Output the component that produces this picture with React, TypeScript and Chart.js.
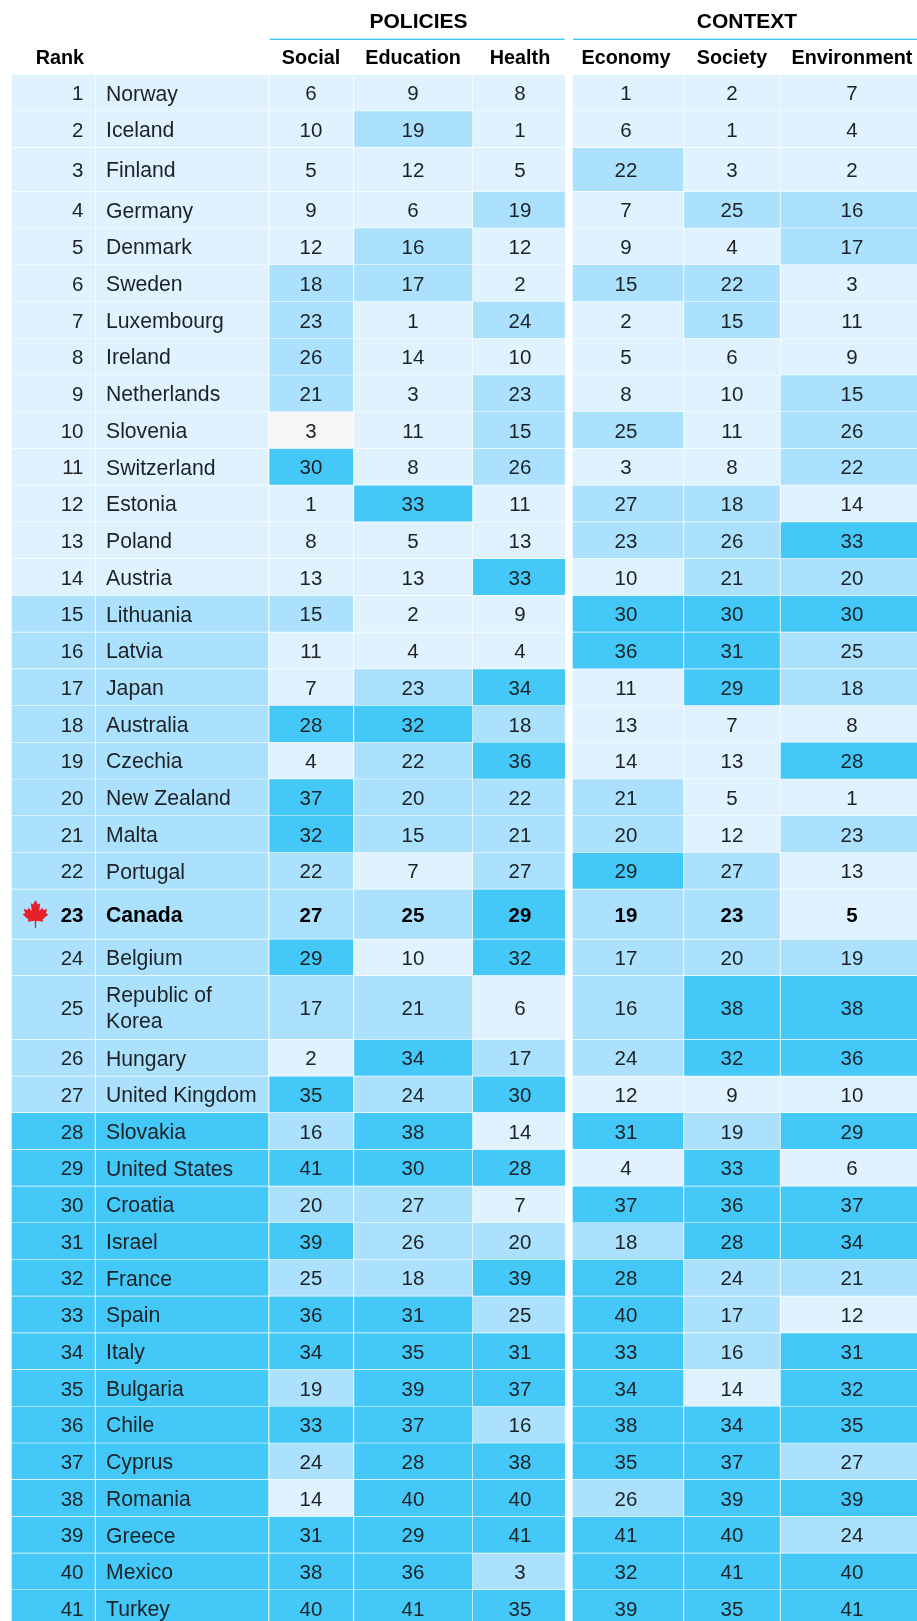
import React, { useEffect, useRef } from "react";
import { Chart, registerables } from "chart.js";

Chart.register(...registerables);

const ranks = Array.from({ length: 41 }, (_, i) => i + 1);
const countries = ["Norway","Iceland","Finland","Germany","Denmark","Sweden","Luxembourg","Ireland","Netherlands","Slovenia","Switzerland","Estonia","Poland","Austria","Lithuania","Latvia","Japan","Australia","Czechia","New Zealand","Malta","Portugal","Canada","Belgium","Republic of\nKorea","Hungary","United Kingdom","Slovakia","United States","Croatia","Israel","France","Spain","Italy","Bulgaria","Chile","Cyprus","Romania","Greece","Mexico","Turkey"];
const social = [6,10,5,9,12,18,23,26,21,3,30,1,8,13,15,11,7,28,4,37,32,22,27,29,17,2,35,16,41,20,39,25,36,34,19,33,24,14,31,38,40];
const education = [9,19,12,6,16,17,1,14,3,11,8,33,5,13,2,4,23,32,22,20,15,7,25,10,21,34,24,38,30,27,26,18,31,35,39,37,28,40,29,36,41];
const health = [8,1,5,19,12,2,24,10,23,15,26,11,13,33,9,4,34,18,36,22,21,27,29,32,6,17,30,14,28,7,20,39,25,31,37,16,38,40,41,3,35];
const economy = [1,6,22,7,9,15,2,5,8,25,3,27,23,10,30,36,11,13,14,21,20,29,19,17,16,24,12,31,4,37,18,28,40,33,34,38,35,26,41,32,39];
const society = [2,1,3,25,4,22,15,6,10,11,8,18,26,21,30,31,29,7,13,5,12,27,23,20,38,32,9,19,33,36,28,24,17,16,14,34,37,39,40,41,35];
const environment = [7,4,2,16,17,3,11,9,15,26,22,14,33,20,30,25,18,8,28,1,23,13,5,19,38,36,10,29,6,37,34,21,12,31,32,35,27,39,24,40,41];
const columnNames = ["Social","Education","Health","Economy","Society","Environment"];
const groupNames = ["POLICIES","CONTEXT"];

// Layout lists
const rowHeights = [36.7,36.6,43.7,36.7,36.73,36.73,36.73,36.73,36.73,36.73,36.73,36.73,36.73,36.73,36.73,36.73,36.73,36.73,36.73,36.73,36.73,36.73,49.9,36.6,63.7,36.7,36.6,36.7,36.7,36.7,36.7,36.7,36.7,36.7,36.7,36.7,36.7,36.7,36.7,36.7,36.7];
const colEdges: [number, number][] = [[12,94.5],[96,268],[269.7,352.8],[354.5,472],[473.3,564.6],[573,683],[684.5,779.5],[781,917]];
const textCenters = [311,413,520,626,732,852];
const FONT = '"Liberation Sans", Arial, sans-serif';
const INK = "#1c2226";
const LIGHT = "#dff2fd";
const MID = "#abe1fd";
const DARK = "#44c8f8";
const tierColor = (v: number) => (v <= 14 ? LIGHT : v <= 27 ? MID : DARK);
const cellColorOverrides: Record<string, string> = { "9-0": "#f6f6f4", "39-2": MID };

const tops: number[] = [];
rowHeights.reduce((acc, h, i) => ((tops[i] = acc), acc + h), 75);
const rowRange = (i: number): [number, number] => [tops[i], tops[i] + rowHeights[i] - 1.3];
const valueCols = [social, education, health, economy, society, environment];

const leafHalf: [number, number][] = [[0,0],[9,16],[17,12],[13,40],[24,28],[28,36],[42,32],[37,47],[46,52],[25,70],[28,78],[3,74],[2,100]];

const tablePlugin = {
  id: "tableText",
  afterDatasetsDraw(chart: any) {
    const { ctx, scales } = chart;
    const xs = scales.x, ys = scales.y;
    const px = (v: number) => xs.getPixelForValue(v);
    const py = (v: number) => ys.getPixelForValue(v);
    const canadaIdx = countries.indexOf("Canada");
    ctx.save();
    ctx.fillStyle = "#000";
    ctx.textBaseline = "middle";
    // group headers + rules
    ctx.font = `bold 21px ${FONT}`;
    ctx.textAlign = "center";
    ctx.fillText(groupNames[0], px(418.5), py(21.8));
    ctx.fillText(groupNames[1], px(747), py(21.8));
    ctx.fillStyle = DARK;
    ctx.fillRect(px(269.7), py(38.6), px(564.6) - px(269.7), 1.4);
    ctx.fillRect(px(573), py(38.6), px(917) - px(573), 1.4);
    ctx.fillStyle = "#000";
    ctx.font = `bold 19.8px ${FONT}`;
    ctx.textAlign = "right";
    ctx.fillText("Rank", px(84), py(58.5));
    ctx.textAlign = "center";
    columnNames.forEach((n, i) => ctx.fillText(n, px(textCenters[i]), py(58.5)));

    ranks.forEach((r, i) => {
      const cy = py((rowRange(i)[0] + rowRange(i)[1]) / 2) + 2;
      const bold = i === canadaIdx;
      ctx.fillStyle = bold ? "#000" : INK;
      const weight = bold ? "bold " : "";
      ctx.font = `${weight}20.5px ${FONT}`;
      ctx.textAlign = "right";
      ctx.fillText(String(r), px(83.5), cy);
      ctx.textAlign = "center";
      valueCols.forEach((col, c) => ctx.fillText(String(col[i]), px(textCenters[c]), cy));
      ctx.font = `${weight}21.2px ${FONT}`;
      ctx.textAlign = "left";
      const lines = countries[i].split("\n");
      lines.forEach((l, k) => ctx.fillText(l, px(106), cy + (k - (lines.length - 1) / 2) * 26));
    });

    // maple leaf beside the highlighted row
    const cx = px(35.5), top = py(900), k = 0.28;
    ctx.fillStyle = "#e8202a";
    ctx.beginPath();
    leafHalf.forEach(([dx, dy], j) => (j ? ctx.lineTo(cx + dx * k, top + dy * k) : ctx.moveTo(cx + dx * k, top + dy * k)));
    [...leafHalf].reverse().forEach(([dx, dy]) => ctx.lineTo(cx - dx * k, top + dy * k));
    ctx.closePath();
    ctx.fill();
    ctx.restore();
  },
};

export default function App() {
  const ref = useRef<HTMLCanvasElement>(null);
  useEffect(() => {
    document.body.style.margin = "0";
    document.body.style.overflow = "hidden";
    const column = (idx: number, label: string, tiers: number[], colors?: (i: number) => string) => {
      const [a, b] = colEdges[idx];
      return {
        label,
        stack: "table",
        barThickness: b - a,
        data: tiers.map((_, i) => ({ x: (a + b) / 2, y: rowRange(i) })),
        backgroundColor: tiers.map((v, i) => (colors ? colors(i) : tierColor(v))),
        borderWidth: 0,
      };
    };
    const chart = new Chart(ref.current!, {
      type: "bar",
      data: {
        datasets: [
          column(0, "Rank", ranks),
          column(1, "Country", ranks),
          ...valueCols.map((col, c) =>
            column(c + 2, columnNames[c], col, (i) => cellColorOverrides[`${i}-${c}`] ?? tierColor(col[i]))
          ),
        ],
      },
      options: {
        animation: false,
        responsive: false,
        maintainAspectRatio: false,
        layout: { padding: 0 },
        plugins: { legend: { display: false }, tooltip: { enabled: false }, title: { display: false } },
        scales: {
          x: { type: "linear", min: 0, max: 917, offset: false, display: false },
          y: { type: "linear", min: 0, max: 1621, reverse: true, stacked: false, display: false },
        },
      },
      plugins: [tablePlugin],
    } as any);
    return () => chart.destroy();
  }, []);
  return (
    <div style={{ width: 917, height: 1621, background: "#fff" }}>
      <canvas ref={ref} width={917} height={1621} style={{ display: "block" }} />
    </div>
  );
}
